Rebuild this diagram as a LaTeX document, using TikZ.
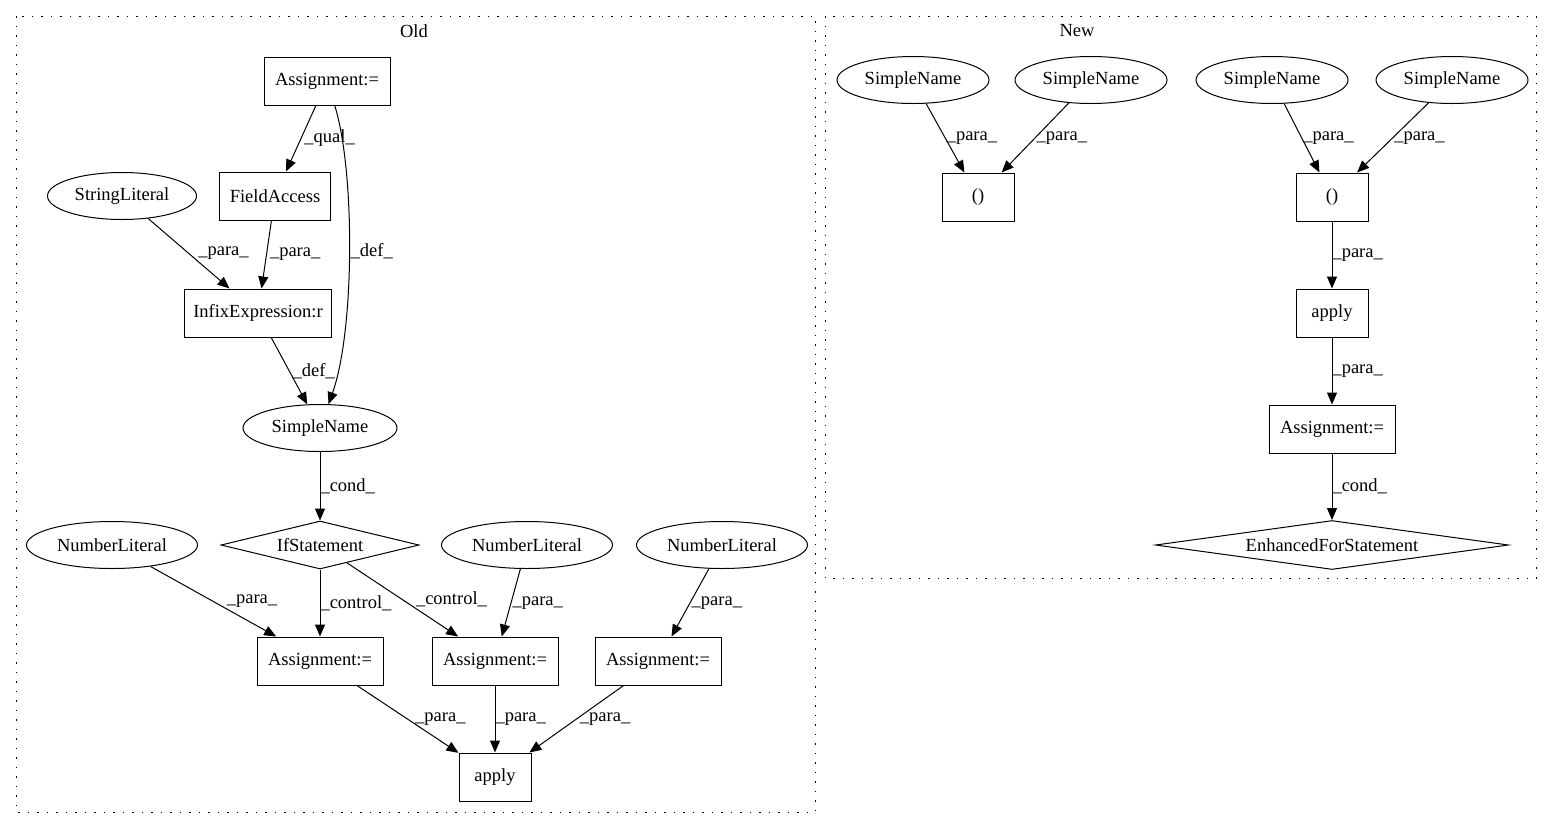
\documentclass[tikz,border=0pt]{standalone}
\usepackage{fontspec}
\setmainfont{Liberation Serif}
\usetikzlibrary{shapes.geometric,arrows.meta}

\begin{document}
\begin{tikzpicture}[x=1pt,y=-1pt,
        every node/.style={font=\fontsize{18.5}{20}\selectfont},
        box/.style={draw,line width=1pt,rectangle,inner sep=0pt,minimum width=#1,minimum height=48pt},
        box/.default=126pt,
        ellip/.style={draw,line width=1pt,ellipse,inner sep=0pt,minimum width=#1,minimum height=47pt},
        ellip/.default=152pt,
        cond/.style={draw,line width=1pt,diamond,inner sep=0pt,minimum width=#1,minimum height=48pt},
        edge/.style={draw,line width=1pt,-{Triangle[length=12pt,width=10pt]}},
        lbl/.style={anchor=west,inner sep=3pt},
        cluster/.style={draw,line width=1pt,dash pattern=on 1.5pt off 8pt}]
        \useasboundingbox (0,0) rectangle (1553,828);
        \draw[cluster] (16,16) rectangle (815,812);
        \draw[cluster] (825,16) rectangle (1536,578);
        \node (oldtitle) at (414,31) {Old};
        \node (newtitle) at (1077,31) {New};

        \node[box] (atop) at (327,81) {Assignment:=};
        \node[box=111pt] (fa) at (275,196) {FieldAccess};
        \node[ellip=149pt] (strl) at (122,196) {StringLiteral};
        \node[box=147pt] (infix) at (258,313) {InfixExpression:r};
        \node[ellip=154pt] (sn) at (320,428) {SimpleName};
        \node[cond=198pt,aspect=4.1] (ifst) at (320,545) {IfStatement};
        \node[ellip=171pt] (num1) at (112,545) {NumberLiteral};
        \node[ellip=171pt] (num2) at (527,545) {NumberLiteral};
        \node[ellip=171pt] (num3) at (722,545) {NumberLiteral};
        \node[box] (asg1) at (320,661) {Assignment:=};
        \node[box] (asg2) at (495,661) {Assignment:=};
        \node[box] (asg3) at (658,661) {Assignment:=};
        \node[box=72pt] (app) at (495,777) {apply};

        \node[ellip] (sna) at (913,80) {SimpleName};
        \node[ellip] (snb) at (1091,80) {SimpleName};
        \node[ellip] (snc) at (1272,80) {SimpleName};
        \node[ellip] (snd) at (1452,80) {SimpleName};
        \node[box=72pt] (parl) at (978,197) {()};
        \node[box=72pt] (parr) at (1332,197) {()};
        \node[box=72pt] (app2) at (1332,313) {apply};
        \node[box] (asg4) at (1332,429) {Assignment:=};
        \node[cond=353pt,minimum height=49pt,aspect=7.2] (efs) at (1332,545) {EnhancedForStatement};

        \draw[edge] (atop) -- node[lbl] {\_qual\_} (fa);
        \draw[edge] (atop) .. controls (355,170) and (355,330) .. node[lbl,inner sep=1pt] {\_def\_} (sn);
        \draw[edge] (strl) -- node[lbl,xshift=6pt] {\_para\_} (infix);
        \draw[edge] (fa) -- node[lbl] {\_para\_} (infix);
        \draw[edge] (infix) -- node[lbl] {\_def\_} (sn);
        \draw[edge] (sn) -- node[lbl,inner sep=0pt] {\_cond\_} (ifst);
        \draw[edge] (num1) -- node[lbl,xshift=10pt] {\_para\_} (asg1);
        \draw[edge] (ifst) -- node[lbl,inner sep=0pt] {\_control\_} (asg1);
        \draw[edge] (ifst) -- node[lbl,xshift=10pt] {\_control\_} (asg2);
        \draw[edge] (num2) -- node[lbl,inner sep=1pt] {\_para\_} (asg2);
        \draw[edge] (num3) -- node[lbl,inner sep=1pt] {\_para\_} (asg3);
        \draw[edge] (asg1) -- node[lbl,xshift=4pt] {\_para\_} (app);
        \draw[edge] (asg2) -- node[lbl,inner sep=0pt] {\_para\_} (app);
        \draw[edge] (asg3) -- node[lbl] {\_para\_} (app);

        \draw[edge] (sna) -- node[lbl,inner sep=1pt] {\_para\_} (parl);
        \draw[edge] (snb) -- node[lbl,inner sep=1pt] {\_para\_} (parl);
        \draw[edge] (snc) -- node[lbl,inner sep=1pt] {\_para\_} (parr);
        \draw[edge] (snd) -- node[lbl,inner sep=1pt] {\_para\_} (parr);
        \draw[edge] (parr) -- node[lbl,inner sep=0pt] {\_para\_} (app2);
        \draw[edge] (app2) -- node[lbl,inner sep=0pt] {\_para\_} (asg4);
        \draw[edge] (asg4) -- node[lbl,inner sep=0pt] {\_cond\_} (efs);
    \end{tikzpicture}
\end{document}
